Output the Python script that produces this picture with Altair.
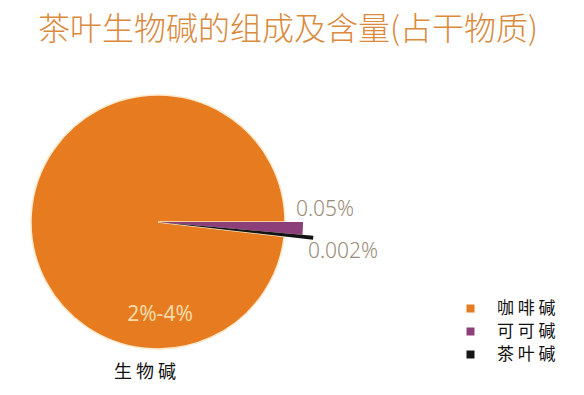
import altair as alt
import pandas as pd

# data (shares are the visual angular shares of the pie)
names = ["可可碱", "茶叶碱", "咖啡碱"]
shares = [1.4, 0.42, 98.18]
order = [1, 2, 3]
legend_names = ["咖啡碱", "可可碱", "茶叶碱"]
colors = ["#E67C1F", "#8C3F78", "#141414"]
value_labels = ["0.05%", "0.002%", "2%-4%"]
title_text = "茶叶生物碱的组成及含量(占干物质)"
axis_name = "生物碱"

df = pd.DataFrame({"name": names, "share": shares, "ord": order})

CX, CY = 150, 214
color_scale = alt.Scale(domain=legend_names, range=colors)
theta = alt.Theta("share:Q", stack=True, scale=alt.Scale(range=[1.5708, 7.854]))
base = alt.Chart(df).encode(
    theta=theta,
    order=alt.Order("ord:Q"),
    x=alt.value(CX),
    y=alt.value(CY),
)

def slice_layer(name, radius, legend=False, **kw):
    return base.mark_arc(radius=radius, **kw).encode(
        color=alt.Color(
            "name:N",
            scale=color_scale,
            legend=alt.Legend(
                title=None,
                orient="none",
                legendX=454,
                legendY=292,
                symbolType="square",
                symbolSize=64,
                symbolStrokeWidth=0,
                labelFont="Noto Sans CJK SC",
                labelFontSize=17,
                labelColor="#111111",
                labelOffset=18,
                rowPadding=5,
                labelExpr="join(split(datum.label, ''), ' ')",
            ) if legend else None,
        ),
        opacity=alt.condition(alt.datum.name == name, alt.value(1), alt.value(0)),
    )

orange = slice_layer("咖啡碱", 127, legend=True, stroke="#FDE9CC", strokeWidth=1.5)
purple = slice_layer("可可碱", 145)
black = slice_layer("茶叶碱", 156)

def text(t, x, y, size, color, font="Noto Sans", align="center", weight="normal"):
    return alt.Chart(pd.DataFrame({"t": [t]})).mark_text(
        font=font, fontSize=size, color=color, align=align, baseline="middle",
        fontWeight=weight,
    ).encode(text="t:N", x=alt.value(x), y=alt.value(y))

title = text(title_text, 280, 22, 32, "#D98A3D", font="Noto Sans CJK SC", weight=300)
lab1 = text(value_labels[0], 288, 202, 21, "#9A8B78", align="left", weight=300)
lab2 = text(value_labels[1], 300, 244, 21, "#9A8B78", align="left", weight=300)
lab3 = text(value_labels[2], 152, 307, 21, "#F8DBA8")
name_lab = text(" ".join(axis_name), 137, 365, 18, "#111111", font="Noto Sans CJK SC")

chart = alt.layer(orange, purple, black, title, lab1, lab2, lab3, name_lab).properties(
    width=568, height=379, autosize="none", padding=0, background="#FFFFFF"
).configure_view(stroke=None)

chart.save("out.html", embed_options={"renderer": "svg", "actions": False})
